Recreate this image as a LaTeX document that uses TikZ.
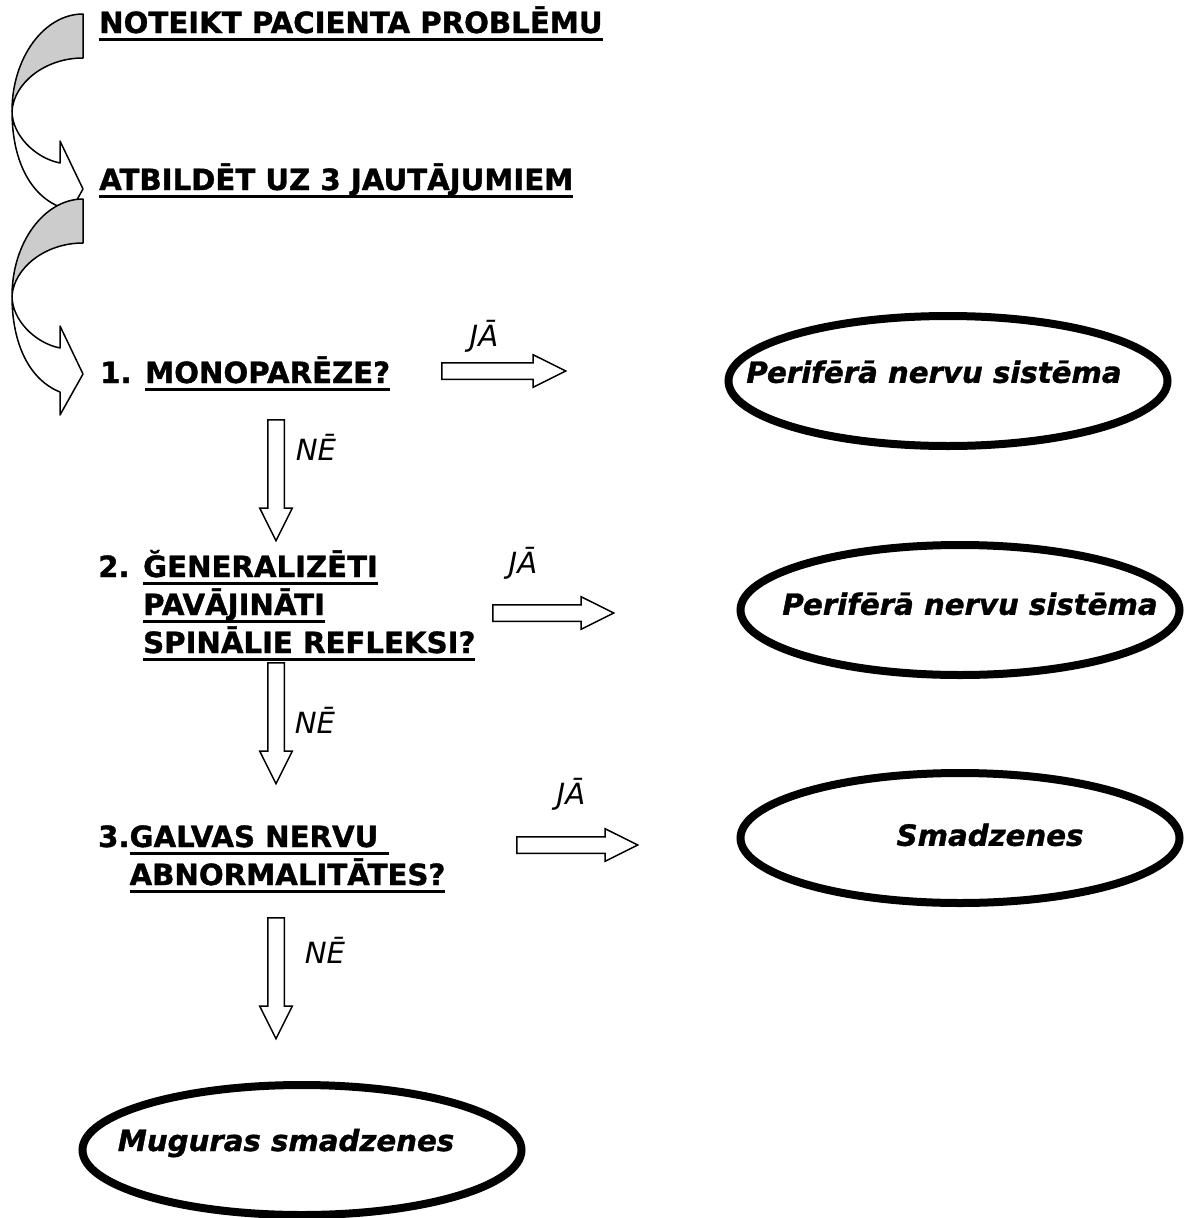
\documentclass[tikz,border=0pt]{standalone}
\usepackage{fontspec}
\setmainfont{DejaVu Sans}[BoldFeatures={FakeBold=1.2}, BoldItalicFeatures={FakeBold=1.2}]
\usetikzlibrary{shapes.geometric, shapes.arrows}
\definecolor{backgray}{HTML}{CCCCCC}
\newcommand{\uln}[1]{\setbox0\hbox{#1}\rlap{\rule[-7.5pt]{\wd0}{3pt}}\box0}
% text inside an ellipse, moved by (x,y) from its centre
\newcommand{\intext}[3]{\makebox[0pt]{\raisebox{#2}{\hspace*{#1}#3}}}

\begin{document}
\begin{tikzpicture}[
    x=1pt, y=-1pt,
    every node/.style={inner sep=0pt},
    qtext/.style={
      font=\fontsize{29.2}{38}\selectfont\bfseries,
      anchor=base west, align=left,
    },
    answer/.style={
      font=\fontsize{29.2}{34}\selectfont\itshape,
    },
    result/.style={
      ellipse, draw, line width=8pt,
      minimum width=439pt, minimum height=130pt,
      text height=0pt, text depth=0pt,
      font=\fontsize{29.2}{34}\selectfont\bfseries\itshape,
    },
    blockarrow/.style={
      single arrow, draw, line width=1.5pt, fill=white,
      text height=7.5pt, text depth=7.5pt,
      minimum height=121pt, anchor=tail,
      single arrow head extend=8pt, single arrow head indent=0pt,
      single arrow tip angle=53,
    },
    curve/.style={draw, line width=1.5pt, line join=round},
  ]
  \useasboundingbox (0,0) rectangle (1184,1218);

  % curved arrows on the left
  \foreach \dy in {0,185} {
    \begin{scope}[yshift=-\dy pt]
      \path[curve, fill=backgray] (83,14) .. controls (44,14) and (12,58) .. (12,111)
        .. controls (14,83) and (45,58) .. (83,58) -- cycle;
      \path[curve, fill=white] (12,111) .. controls (12,160) and (30,195) .. (60,207)
        -- (60,230) -- (83,189) -- (60,141) -- (60,163)
        .. controls (35,158) and (12,135) .. (12,111) -- cycle;
    \end{scope}
  }

  \node[qtext] (problem) at (99,33) {\uln{NOTEIKT PACIENTA PROBLĒMU}};
  \node[qtext] (answers) at (99,190) {\uln{ATBILDĒT UZ 3 JAUTĀJUMIEM}};
  \node[qtext] (q1) at (100,383) {1. \uln{MONOPARĒZE?}};
  \node[qtext] (q2) at (98,653) {2. \uln{ĞENERALIZĒTI}\\\hphantom{2. }\uln{PAVĀJINĀTI}\\\hphantom{2. }\uln{SPINĀLIE REFLEKSI?}};
  \node[qtext] (q3) at (98,885) {3.\uln{GALVAS NERVU }\\\hphantom{3.}\uln{ABNORMALITĀTES?}};

  \node[result] (pns1) at (948,381) {\intext{-28pt}{-1.8pt}{Perifērā nervu sistēma}};
  \node[result] (pns2) at (960,610) {\intext{20pt}{-4.8pt}{Perifērā nervu sistēma}};
  \node[result] (brain) at (960,838) {\intext{60pt}{-7.8pt}{Smadzenes}};
  \node[result] (cord) at (302,1150) {\intext{-32pt}{-1pt}{Muguras smadzenes}};

  \node[blockarrow, minimum height=124pt] (yes1) at (441,371) {};
  \node[blockarrow] (yes2) at (492,613) {};
  \node[blockarrow] (yes3) at (516,845) {};
  \node[blockarrow, rotate=-90] (no1) at (276,419) {};
  \node[blockarrow, rotate=-90] (no2) at (276,662) {};
  \node[blockarrow, rotate=-90] (no3) at (276,917) {};

  \node[answer] (ja1) at (484,336) {JĀ};
  \node[answer] (ja2) at (523,563) {JĀ};
  \node[answer] (ja3) at (571,794) {JĀ};
  \node[answer] (ne1) at (316,447) {NĒ};
  \node[answer] (ne2) at (315,720) {NĒ};
  \node[answer] (ne3) at (325,950) {NĒ};
\end{tikzpicture}
\end{document}
